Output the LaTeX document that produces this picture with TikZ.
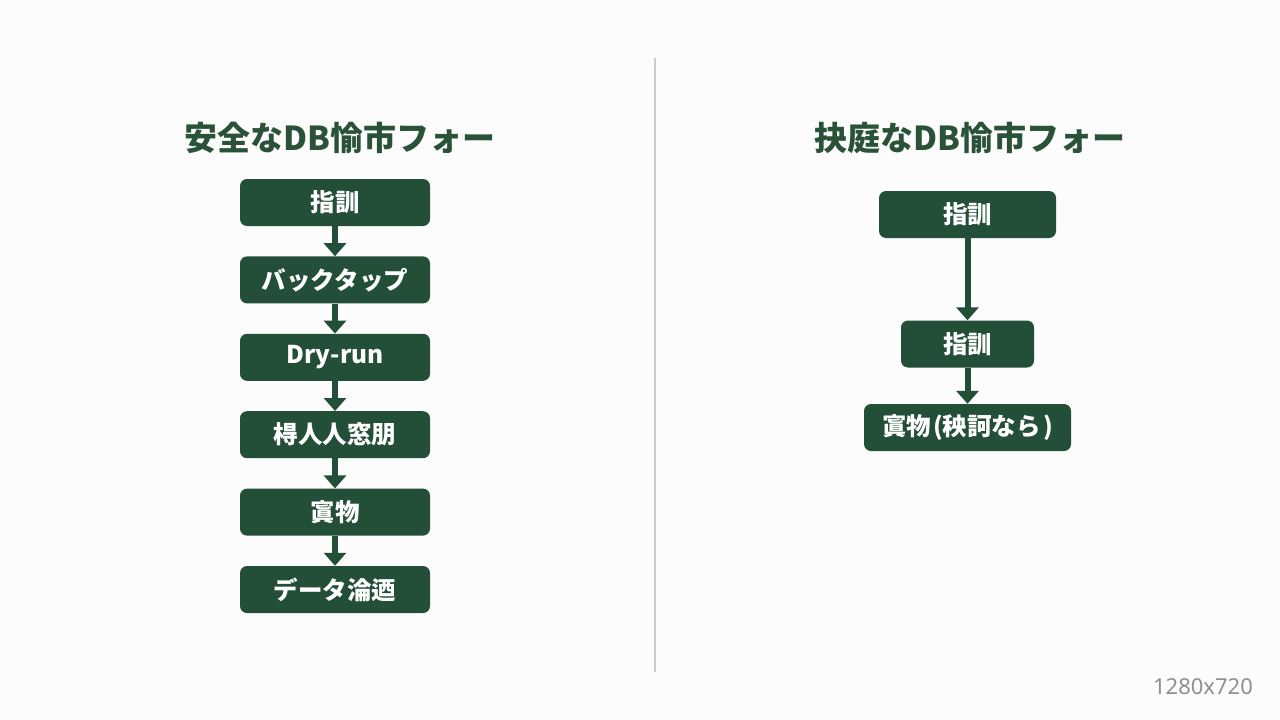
\documentclass[tikz,border=0pt]{standalone}
\usepackage{fontspec}
\setmainfont{Noto Sans CJK JP}
\newfontfamily\sizefont{Noto Sans}
\usetikzlibrary{arrows.meta}
\definecolor{flowgreen}{HTML}{234E38}
\definecolor{titlegreen}{HTML}{2A5239}
\definecolor{rulegray}{HTML}{CCCCCC}
\definecolor{sizegray}{HTML}{8F8F8F}

\begin{document}
\begin{tikzpicture}[x=1pt, y=-1pt,
    box/.style={rectangle, rounded corners=7pt, fill=flowgreen, text=white, inner sep=0pt,
        minimum height=47pt, font=\fontsize{24.5}{28}\selectfont\bfseries},
    flow/.style={draw=flowgreen, line width=6pt, -{Triangle[width=22pt, length=13pt]}},
    heading/.style={text=titlegreen, font=\fontsize{33}{38}\selectfont\bfseries}]

% background and page size
\fill[white!99!black] (0,0) rectangle (1280,720);
\draw[rulegray, line width=1.5pt] (655,58) -- (655,672);

\node[heading] (safetitle) at (340,138) {安全なDB愉市フォー};
\node[heading] (fasttitle) at (970,138) {抉庭なDB愉市フォー};

% left flow
\foreach \n/\txt [count=\i from 0] in {s1/指訓, s2/バックタップ, s3/Dry-run, s4/棏人人窓朋, s5/寘物, s6/データ淪迺}
{
    \node[box, minimum width=190pt] (\n) at (335,202.5+77.4*\i) {\txt};
};
\foreach \a/\b in {s1/s2, s2/s3, s3/s4, s4/s5, s5/s6}
{
    \draw[flow] (\a.south) -- (\b.north);
};

% right flow
\node[box, minimum width=177pt] (r1) at (967.5,214.5) {指訓};
\node[box, minimum width=133pt] (r2) at (967.5,344) {指訓};
\node[box, minimum width=207pt] (r3) at (967.5,427.5) {寘物\hspace{2pt}(秧訶なら\hspace{2pt})};
\draw[flow] (r1.south) -- (r2.north);
\draw[flow] (r2.south) -- (r3.north);

\node[text=sizegray, font=\sizefont\fontsize{22}{26}\selectfont] (size) at (1203,687) {1280x720};
\end{tikzpicture}
\end{document}
